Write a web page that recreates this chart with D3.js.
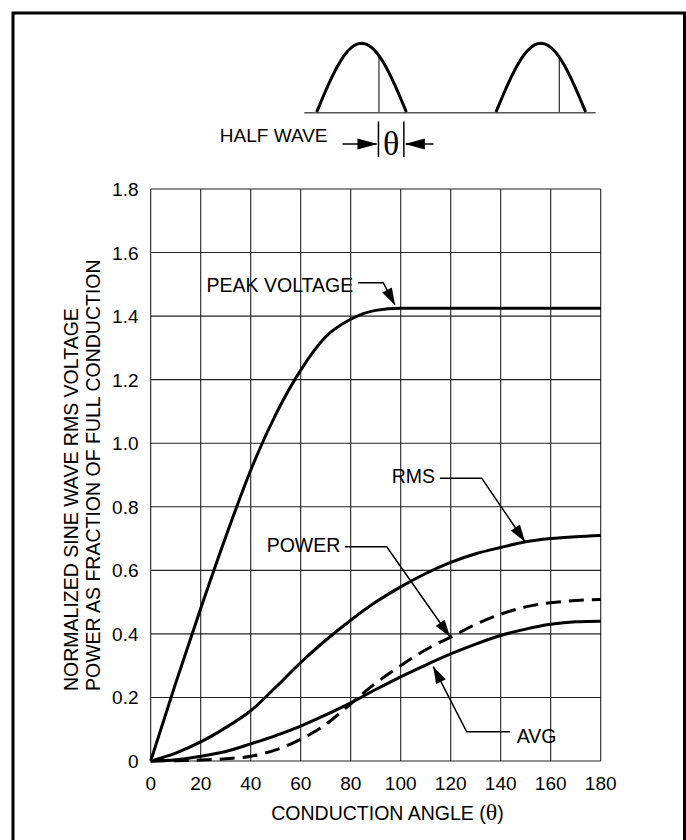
<!DOCTYPE html>
<html>
<head>
<meta charset="utf-8">
<script src="https://cdn.jsdelivr.net/npm/d3@7"></script>
<style>
  html, body { margin: 0; padding: 0; background: #fff; }
  svg { display: block; }
  text { font-family: "Liberation Sans", Arial, Helvetica, sans-serif; fill: #000; }
  .serif { font-family: "Liberation Serif", "Times New Roman", serif; }
</style>
</head>
<body>
<svg id="chart" width="686" height="840"></svg>
<script>
// ---------------- data ----------------
const thetaDeg      = [0, 10, 20, 30, 40, 50, 60, 70, 80, 90, 100, 110, 120, 130, 140, 150, 160, 170, 180];
const peakVoltage   = [0, 0.245, 0.48, 0.705, 0.915, 1.09, 1.23, 1.335, 1.39, 1.418, 1.425, 1.425, 1.425, 1.425, 1.425, 1.425, 1.425, 1.425, 1.425];
const rmsVoltage    = [0, 0.025, 0.06, 0.105, 0.158, 0.232, 0.31, 0.38, 0.443, 0.50, 0.548, 0.59, 0.625, 0.652, 0.672, 0.69, 0.70, 0.706, 0.71];
const powerFraction = [0, 0.001, 0.003, 0.007, 0.015, 0.035, 0.068, 0.115, 0.18, 0.245, 0.30, 0.35, 0.39, 0.43, 0.462, 0.485, 0.498, 0.505, 0.508];
const avgVoltage    = [0, 0.004, 0.015, 0.03, 0.054, 0.08, 0.11, 0.145, 0.183, 0.225, 0.265, 0.302, 0.337, 0.368, 0.395, 0.415, 0.43, 0.438, 0.44];

const xTicks = [0, 20, 40, 60, 80, 100, 120, 140, 160, 180];
const yTicks = [0, 0.2, 0.4, 0.6, 0.8, 1.0, 1.2, 1.4, 1.6, 1.8];
const yTickLabels = ["0", "0.2", "0.4", "0.6", "0.8", "1.0", "1.2", "1.4", "1.6", "1.8"];

const xTitle = "CONDUCTION ANGLE (";
const yTitle1 = "NORMALIZED SINE WAVE RMS VOLTAGE";
const yTitle2 = "POWER AS FRACTION OF FULL CONDUCTION";

// annotations: label, text start (theta,value), elbow start, elbow end, arrow tip
const annotLabels = ["PEAK VOLTAGE", "RMS", "POWER", "AVG"];
const annotText   = [[81.0, 1.475, "end"], [96.4, 0.874, "start"], [46.4, 0.659, "start"], [146.4, 0.058, "start"]];
const annotElbowA = [[83, 1.505], [115.7, 0.89], [77.7, 0.674], [143.7, 0.092]];
const annotElbowB = [[93, 1.505], [132.4, 0.89], [94.4, 0.674], [126.4, 0.092]];
const annotTip    = [[97.7, 1.435], [149.7, 0.69], [119.7, 0.391], [113, 0.297]];

// half-wave sketch (angles in degrees)
const waveArchStarts = [0, 360];
const waveMarkers = [125, 487];

// ---------------- drawing ----------------
const svg = d3.select("#chart");

// outer border
svg.append("rect")
  .attr("x", 13).attr("y", 13).attr("width", 671.5).attr("height", 900)
  .attr("fill", "none").attr("stroke", "#000").attr("stroke-width", 3);

const x = d3.scaleLinear().domain([0, 180]).range([150.7, 600.7]);
const y = d3.scaleLinear().domain([0, 1.8]).range([761, 189]);

const g = svg.append("g");

// grid
g.selectAll("line.vg").data(xTicks).join("line")
  .attr("x1", d => x(d)).attr("x2", d => x(d))
  .attr("y1", y(0)).attr("y2", y(1.8))
  .attr("stroke", "#222").attr("stroke-width", 1.1);
g.selectAll("line.hg").data(yTicks).join("line")
  .attr("x1", x(0)).attr("x2", x(180))
  .attr("y1", d => y(d)).attr("y2", d => y(d))
  .attr("stroke", "#222").attr("stroke-width", 1.1);

// tick labels
g.selectAll("text.xt").data(xTicks).join("text")
  .attr("x", d => x(d)).attr("y", 789.5)
  .attr("text-anchor", "middle").attr("font-size", 19)
  .text(d => d);
g.selectAll("text.yt").data(yTicks).join("text")
  .attr("x", 138.5).attr("y", d => y(d) + 7)
  .attr("text-anchor", "end").attr("font-size", 19)
  .text((d, i) => yTickLabels[i]);

// axis titles
const xt = g.append("text").attr("x", 387.5).attr("y", 820)
  .attr("text-anchor", "middle").attr("font-size", 19.5);
xt.append("tspan").text(xTitle);
xt.append("tspan").attr("class", "serif").attr("font-size", 24).text("θ");
xt.append("tspan").text(")");

g.append("text").attr("transform", "translate(78,691) rotate(-90)")
  .attr("text-anchor", "start").attr("font-size", 19.5).text(yTitle1);
g.append("text").attr("transform", "translate(100,691) rotate(-90)")
  .attr("text-anchor", "start").attr("font-size", 19.5).text(yTitle2);

// curves
const mkLine = vals => d3.line()
  .x((d, i) => x(thetaDeg[i])).y(d => y(d))
  .curve(d3.curveMonotoneX)(vals);

g.append("path").attr("d", mkLine(peakVoltage))
  .attr("fill", "none").attr("stroke", "#000").attr("stroke-width", 3);
g.append("path").attr("d", mkLine(rmsVoltage))
  .attr("fill", "none").attr("stroke", "#000").attr("stroke-width", 3);
g.append("path").attr("d", mkLine(avgVoltage))
  .attr("fill", "none").attr("stroke", "#000").attr("stroke-width", 3);
g.append("path").attr("d", mkLine(powerFraction))
  .attr("fill", "none").attr("stroke", "#000").attr("stroke-width", 3)
  .attr("stroke-dasharray", "15,8");

// arrowhead helper
function arrowHead(sel, tx, ty, fx, fy, len, half) {
  const dx = tx - fx, dy = ty - fy, L = Math.hypot(dx, dy);
  const ux = dx / L, uy = dy / L;
  const bx = tx - ux * len, by = ty - uy * len;
  const px = -uy * half, py = ux * half;
  sel.append("path")
    .attr("d", `M${tx},${ty}L${bx + px},${by + py}L${bx - px},${by - py}Z`)
    .attr("fill", "#000");
}

// annotations
annotLabels.forEach((lab, i) => {
  const [tx, ty, anchor] = annotText[i];
  g.append("text").attr("x", x(tx)).attr("y", y(ty))
    .attr("text-anchor", anchor).attr("font-size", 19.5).text(lab);
  const a = annotElbowA[i], b = annotElbowB[i], t = annotTip[i];
  g.append("path")
    .attr("d", `M${x(a[0])},${y(a[1])}L${x(b[0])},${y(b[1])}L${x(t[0])},${y(t[1])}`)
    .attr("fill", "none").attr("stroke", "#000").attr("stroke-width", 1.5);
  arrowHead(g, x(t[0]), y(t[1]), x(b[0]), y(b[1]), 17, 5.5);
});

// ---------------- half-wave sketch ----------------
const wx = d3.scaleLinear().domain([0, 360]).range([316.7, 496]);
const wy = d3.scaleLinear().domain([0, 1]).range([112, 43.3]);
const sw = svg.append("g");

sw.append("line")
  .attr("x1", wx(-25)).attr("x2", wx(560))
  .attr("y1", wy(0) + 0.7).attr("y2", wy(0) + 0.7)
  .attr("stroke", "#555").attr("stroke-width", 1.5);

waveArchStarts.forEach((s, k) => {
  const angs = d3.range(0, 181, 3);
  sw.append("path")
    .attr("d", d3.line().x(a => wx(s + a)).y(a => wy(Math.sin(a * Math.PI / 180)))(angs))
    .attr("fill", "none").attr("stroke", "#000").attr("stroke-width", 3);
  const m = waveMarkers[k];
  sw.append("line")
    .attr("x1", wx(m)).attr("x2", wx(m))
    .attr("y1", wy(Math.sin((m - s) * Math.PI / 180))).attr("y2", wy(0))
    .attr("stroke", "#000").attr("stroke-width", 1);
});

// theta marker
const barL = wx(124), barR = wx(175);
[barL, barR].forEach(bx => {
  sw.append("line").attr("x1", bx).attr("x2", bx).attr("y1", 121.5).attr("y2", 157)
    .attr("stroke", "#000").attr("stroke-width", 1.5);
});
sw.append("line").attr("x1", 342.5).attr("x2", barL - 2).attr("y1", 144).attr("y2", 144)
  .attr("stroke", "#000").attr("stroke-width", 1.5);
arrowHead(sw, barL - 1, 144, 342.5, 144, 20, 5.5);
sw.append("line").attr("x1", 433.5).attr("x2", barR + 2).attr("y1", 144).attr("y2", 144)
  .attr("stroke", "#000").attr("stroke-width", 1.5);
arrowHead(sw, barR + 1, 144, 433.5, 144, 20, 5.5);

sw.append("text").attr("class", "serif").attr("x", (barL + barR) / 2).attr("y", 155)
  .attr("text-anchor", "middle").attr("font-size", 34).text("θ");

sw.append("text").attr("x", 327.5).attr("y", 142)
  .attr("text-anchor", "end").attr("font-size", 19).text("HALF WAVE");
</script>
</body>
</html>
